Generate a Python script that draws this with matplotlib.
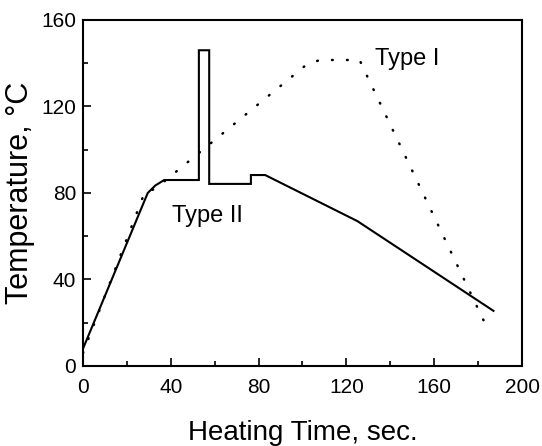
import matplotlib
matplotlib.use("Agg")
import matplotlib.pyplot as plt

plt.rcParams["font.family"] = ["Liberation Sans", "DejaVu Sans"]

# Type II (solid) heating profile
time_2 = [0, 29.5, 33, 37, 52.8, 52.8, 57.5, 57.5, 76.5, 76.5, 83, 125, 187]
temp_2 = [8, 80, 83.5, 86, 86, 146, 146, 84.2, 84.2, 88.3, 88.3, 67, 25.5]

# Type I (dotted) heating profile
time_1 = [0, 28, 33, 102, 108, 126, 129, 183]
temp_1 = [6, 80, 82, 139.5, 141.5, 141.5, 135, 20]

x_ticks = [0, 40, 80, 120, 160, 200]
y_ticks = [0, 40, 80, 120, 160]

fig = plt.figure(figsize=(5.42, 4.46), dpi=100)
ax = fig.add_axes([0.1531, 0.1794, 0.81, 0.7758])

ax.plot(time_2, temp_2, color="black", lw=1.5, solid_joinstyle="miter")
ax.plot(time_1, temp_1, color="black", lw=1.8,
        linestyle=(0, (0.3, 5.7)), dash_capstyle="round")

ax.text(133, 139.2, "Type I", fontsize=17, ha="left", va="baseline")
ax.text(40.5, 66.6, "Type II", fontsize=17, ha="left", va="baseline")

ax.set_xlim(0, 200)
ax.set_ylim(0, 160)
ax.set_xticks(x_ticks)
ax.set_yticks(y_ticks)
ax.set_xticks([20, 60, 100, 140, 180], minor=True)
ax.set_yticks([20, 60, 100, 140], minor=True)
ax.tick_params(direction="in", top=False, right=False, labelsize=15,
               width=1.2, length=6)
ax.tick_params(which="minor", direction="in", top=False, right=False,
               width=1.2, length=3.5)
ax.tick_params(axis="x", pad=9)
ax.tick_params(axis="y", pad=5)
for s in ax.spines.values():
    s.set_linewidth(1.5)

ax.set_xlabel("Heating Time, sec.", fontsize=20, labelpad=16)
ax.set_ylabel("Temperature, °C", fontsize=22, labelpad=4)

fig.savefig("out.png", dpi=100)
